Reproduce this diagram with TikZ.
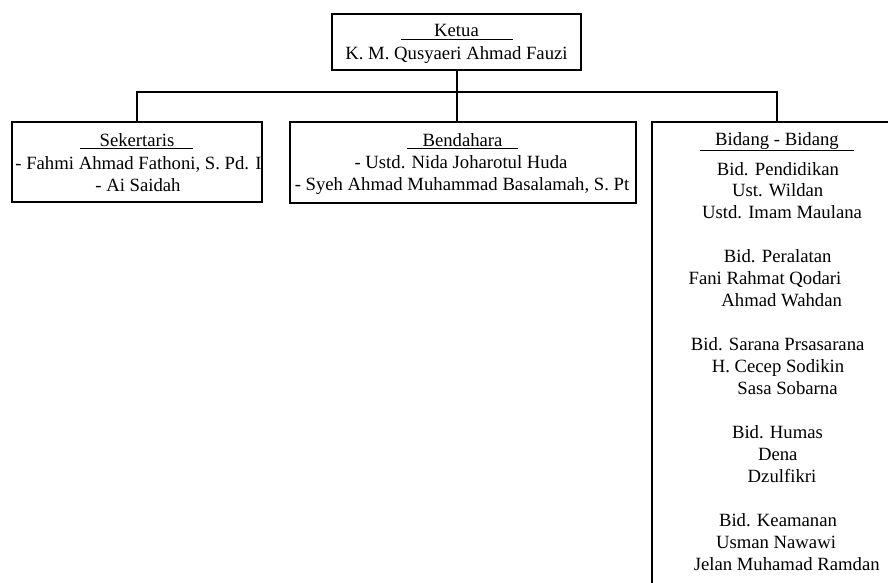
\documentclass[tikz,border=0pt]{standalone}
\usepackage{fontspec}
\setmainfont{Liberation Serif}
\begin{document}
\begin{tikzpicture}[x=1pt,y=-1pt,
  box/.style={draw,line width=1.4pt,inner sep=0pt,fill=none},
  conn/.style={draw,line width=1.4pt},
  ul/.style={draw,line width=1.2pt},
  txt/.style={anchor=base,inner sep=0pt,font=\fontsize{18.7}{21.95}\selectfont}]
\useasboundingbox (0,0) rectangle (888,583);
\clip (0,0) rectangle (888,583);
% boxes
\node[box,minimum width=249pt,minimum height=56pt] (ketua) at (456.5,42) {};
\node[box,minimum width=250pt,minimum height=80pt] (sek) at (137,162) {};
\node[box,minimum width=346pt,minimum height=81pt] (ben) at (463,162.5) {};
\node[box,minimum width=250pt,minimum height=480pt] (bid) at (777,362) {};
% connectors
\coordinate (bus) at (457,92);
\draw[conn] ([xshift=0.5pt]ketua.south) -- ([xshift=-6pt]ben.north);
\draw[conn] (sek.north) |- (bus) -| (bid.north);
% Ketua
\node[txt] (kt) at (456.5,36.7) {Ketua};
\node[txt] (kn) at (456.5,59.3) {K. M. Qusyaeri Ahmad Fauzi};
\draw[ul] (401,39.5) -- (513,39.5);
% Sekertaris
\node[txt] (st) at (137,146.7) {Sekertaris};
\node[txt] (s1) at (138.5,169) {- Fahmi Ahmad Fathoni, S. Pd. I};
\node[txt] (s2) at (138,191) {- Ai Saidah};
\draw[ul] (80,148.5) -- (193,148.5);
% Bendahara
\node[txt] (bt) at (462.5,146.5) {Bendahara};
\node[txt] (b1) at (461,168.5) {- Ustd. Nida Joharotul Huda};
\node[txt] (b2) at (462,190.5) {- Syeh Ahmad Muhammad Basalamah, S. Pt};
\draw[ul] (407,148.5) -- (518,148.5);
% Bidang
\node[txt] (dt) at (777,145) {Bidang - Bidang};
\draw[ul] (700,150.5) -- (854,150.5);
\node[txt] (d1) at (778,175) {Bid. Pendidikan};
\node[txt] (d2) at (777.7,196.9) {Ust. Wildan};
\node[txt] (d3) at (782,218.9) {Ustd. Imam Maulana};
\node[txt] (d4) at (777.7,262.8) {Bid. Peralatan};
\node[txt] (d5) at (765,284.7) {Fani Rahmat Qodari};
\node[txt] (d6) at (781.7,306.7) {Ahmad Wahdan};
\node[txt] (d7) at (777.7,350.6) {Bid. Sarana Prsasarana};
\node[txt] (d8) at (778,372.5) {H. Cecep Sodikin};
\node[txt] (d9) at (787.5,394.5) {Sasa Sobarna};
\node[txt] (d10) at (777.5,438.4) {Bid. Humas};
\node[txt] (d11) at (777.8,460.3) {Dena};
\node[txt] (d12) at (782,482.3) {Dzulfikri};
\node[txt] (d13) at (778,526.2) {Bid. Keamanan};
\node[txt] (d14) at (776,548.1) {Usman Nawawi};
\node[txt] (d15) at (786.7,570.1) {Jelan Muhamad Ramdan};
\end{tikzpicture}
\end{document}
